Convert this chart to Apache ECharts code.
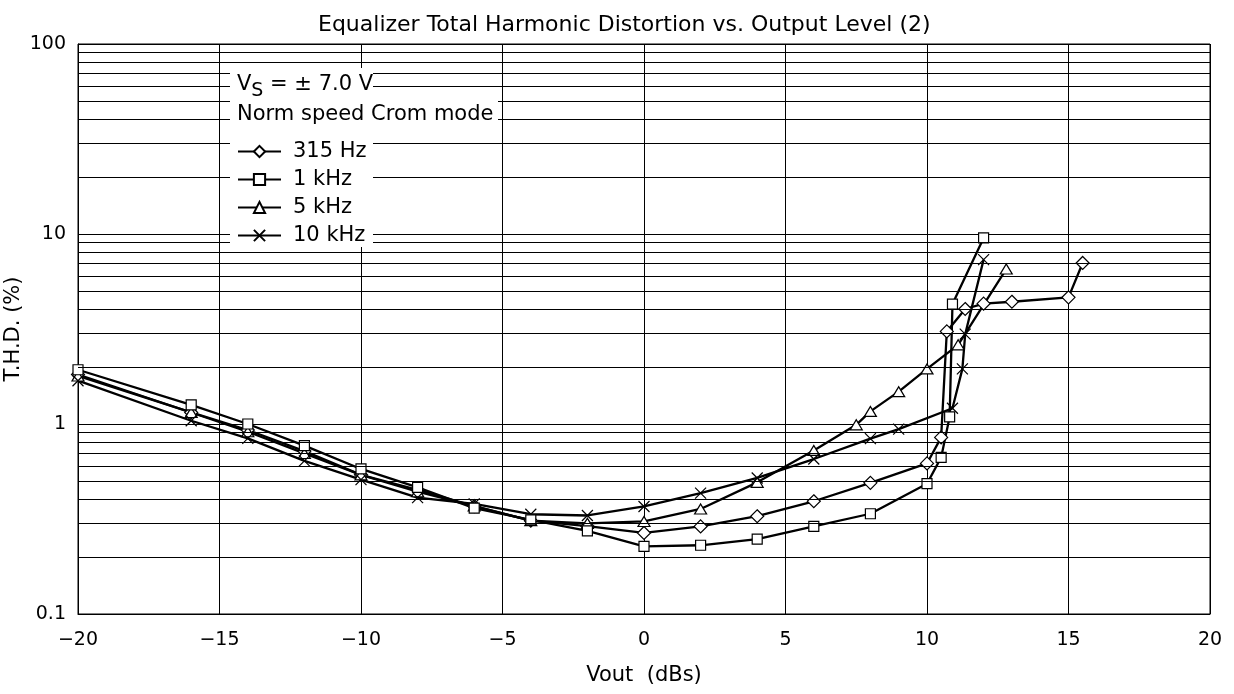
<!DOCTYPE html>
<html>
<head>
<meta charset="utf-8">
<script src="https://cdn.jsdelivr.net/npm/echarts@6/dist/echarts.min.js"></script>
<style>
  html, body { margin: 0; padding: 0; background: #fff; }
  #chart { width: 1234px; height: 694px; }
</style>
</head>
<body>
<div id="chart"></div>
<script>
// Measured THD (%) against output level (dBs), one pair of arrays per test frequency
const vout315 = [-20, -16, -14, -12, -10, -8, -6, -4, -2, 0, 2, 4, 6, 8, 10, 10.5, 10.7, 11.35, 12, 13, 15, 15.5];
const thd315  = [1.82, 1.15, 0.93, 0.72, 0.54, 0.45, 0.37, 0.31, 0.29, 0.267, 0.289, 0.327, 0.392, 0.49, 0.62, 0.85, 3.07, 4.03, 4.3, 4.4, 4.64, 7.04];

const vout1k = [-20, -16, -14, -12, -10, -8, -6, -4, -2, 0, 2, 4, 6, 8, 10, 10.5, 10.8, 10.9, 12];
const thd1k  = [1.93, 1.26, 1.0, 0.77, 0.58, 0.464, 0.361, 0.313, 0.274, 0.227, 0.23, 0.248, 0.289, 0.337, 0.485, 0.667, 1.09, 4.28, 9.53];

const vout5k = [-20, -16, -14, -12, -10, -8, -6, -4, -2, 0, 2, 4, 6, 7.5, 8, 9, 10, 11.1, 12.8];
const thd5k  = [1.79, 1.15, 0.91, 0.70, 0.54, 0.44, 0.37, 0.31, 0.30, 0.307, 0.357, 0.493, 0.726, 0.99, 1.165, 1.48, 1.95, 2.61, 6.54];

const vout10k = [-20, -16, -14, -12, -10, -8, -6, -4, -2, 0, 2, 4, 6, 8, 9, 10.9, 11.25, 11.35, 12];
const thd10k  = [1.69, 1.04, 0.84, 0.64, 0.51, 0.41, 0.38, 0.335, 0.33, 0.368, 0.433, 0.52, 0.654, 0.837, 0.94, 1.21, 1.95, 2.97, 7.33];

const seriesNames = ['315 Hz', '1 kHz', '5 kHz', '10 kHz'];

// Intermediate log-decade rulings (2..9 within each decade)
const minorGrid = [0.2, 0.3, 0.4, 0.5, 0.6, 0.7, 0.8, 0.9,
                   2, 3, 4, 5, 6, 7, 8, 9,
                   20, 30, 40, 50, 60, 70, 80, 90];

const FONT = 'DejaVu Sans';
const BLACK = '#000';

const pairs = (xs, ys) => xs.map((x, i) => [x, ys[i]]);

function curve(name, xs, ys, symbol, size) {
  return {
    name: name,
    type: 'line',
    data: pairs(xs, ys),
    symbol: symbol,
    symbolSize: size,
    showAllSymbol: true,
    lineStyle: { color: BLACK, width: 2.3 },
    itemStyle: { color: '#fff', borderColor: BLACK, borderWidth: 1.2 },
    emphasis: { disabled: true },
    animation: false
  };
}

const crossSymbol = 'path://M0,0L10,10M10,0L0,10';

const chart = echarts.init(document.getElementById('chart'));

chart.setOption({
  animation: false,
  backgroundColor: '#fff',
  title: {
    text: 'Equalizer Total Harmonic Distortion vs. Output Level (2)',
    left: 313,
    top: 9,
    textStyle: { fontFamily: FONT, fontSize: 22, fontWeight: 'normal', color: BLACK }
  },
  grid: {
    left: 78, right: 24, top: 44, bottom: 80,
    show: true, borderColor: BLACK, borderWidth: 1,
    outerBoundsMode: 'none'
  },
  legend: {
    data: seriesNames,
    orient: 'vertical',
    left: 237,
    top: 141,
    itemWidth: 43,
    itemHeight: 14,
    itemGap: 7,
    padding: 0,
    zlevel: 1,
    z: 10,
    selectedMode: false,
    textStyle: { fontFamily: FONT, fontSize: 21, lineHeight: 21, color: BLACK, padding: [0, 0, 0, 7] }
  },
  xAxis: {
    type: 'value',
    min: -20, max: 20, interval: 5,
    axisLine: { show: true, onZero: false, lineStyle: { color: BLACK, width: 1 } },
    axisTick: { show: false },
    splitLine: { show: true, lineStyle: { color: BLACK, width: 1 } },
    axisLabel: {
      fontFamily: FONT, fontSize: 19, color: BLACK, margin: 17,
      formatter: v => (v < 0 ? '\u2212' + (-v) : String(v))
    },
    name: 'Vout  (dBs)',
    nameLocation: 'middle',
    nameGap: 51,
    nameMoveOverlap: false,
    nameTextStyle: { fontFamily: FONT, fontSize: 21, color: BLACK }
  },
  yAxis: {
    type: 'log',
    logBase: 10,
    min: 0.1, max: 100,
    axisLine: { show: true, onZero: false, lineStyle: { color: BLACK, width: 1 } },
    axisTick: { show: false },
    splitLine: { show: true, lineStyle: { color: BLACK, width: 1 } },
    axisLabel: { fontFamily: FONT, fontSize: 19, color: BLACK, margin: 12 },
    name: 'T.H.D. (%)',
    nameLocation: 'middle',
    nameGap: 54,
    nameMoveOverlap: false,
    nameTextStyle: { fontFamily: FONT, fontSize: 21, color: BLACK }
  },
  graphic: [
    // white panel behind the annotation and key
    { type: 'rect', silent: true, zlevel: 1, z: 1, shape: { x: 230, y: 68, width: 143, height: 32 }, style: { fill: '#fff' } },
    { type: 'rect', silent: true, zlevel: 1, z: 1, shape: { x: 230, y: 100, width: 268, height: 28 }, style: { fill: '#fff' } },
    { type: 'rect', silent: true, zlevel: 1, z: 1, shape: { x: 230, y: 128, width: 143, height: 119 }, style: { fill: '#fff' } },
    {
      type: 'text', silent: true, zlevel: 1, z: 5, x: 237, y: 74,
      style: {
        text: '{v|V}{s|S}{v| = ± 7.0 V}',
        fill: BLACK,
        rich: {
          v: { fontFamily: FONT, fontSize: 21, lineHeight: 21, verticalAlign: 'top', fill: BLACK },
          s: { fontFamily: FONT, fontSize: 19, lineHeight: 21, padding: [8, 0, 0, 0], verticalAlign: 'top', fill: BLACK }
        }
      }
    },
    {
      type: 'text', silent: true, zlevel: 1, z: 5, x: 237, y: 104,
      style: { text: 'Norm speed Crom mode', fontFamily: FONT, fontSize: 21, fill: BLACK }
    }
  ],
  series: [
    {
      type: 'line',
      name: 'rulings',
      data: [],
      silent: true,
      z: 1,
      markLine: {
        silent: true,
        animation: false,
        symbol: ['none', 'none'],
        label: { show: false },
        emphasis: { disabled: true },
        lineStyle: { color: BLACK, width: 1, type: 'solid' },
        data: minorGrid.map(v => ({ yAxis: v }))
      }
    },
    curve(seriesNames[0], vout315, thd315, 'diamond', 13),
    curve(seriesNames[2], vout5k, thd5k, 'triangle', [12, 10]),
    curve(seriesNames[3], vout10k, thd10k, crossSymbol, 11),
    curve(seriesNames[1], vout1k, thd1k, 'rect', 10)
  ]
});
</script>
</body>
</html>
